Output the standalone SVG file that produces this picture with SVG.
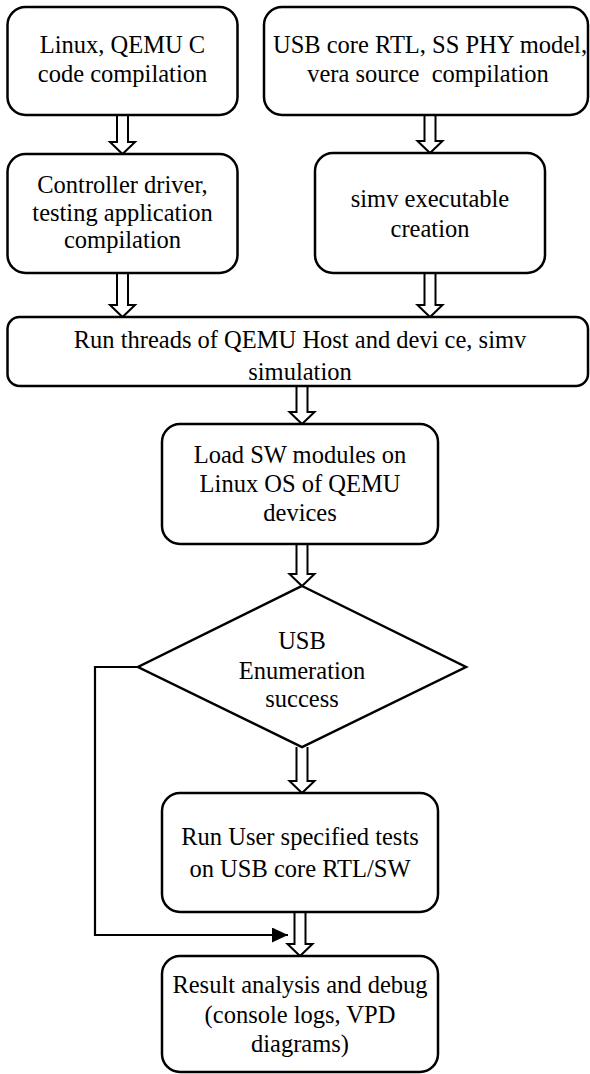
<svg xmlns="http://www.w3.org/2000/svg" width="590" height="1074" viewBox="0 0 590 1074">
  <style>
    .box { fill: #ffffff; stroke: #000000; stroke-width: 2.5; }
    .blk { fill: #ffffff; stroke: #000000; stroke-width: 2; stroke-linejoin: miter; }
    .line { fill: none; stroke: #000000; stroke-width: 2.2; }
    .t { font-family: 'Liberation Serif', serif; font-size: 24.5px; fill: #000000; text-anchor: middle; }
  </style>
  <defs>
    <marker id="ah" markerUnits="userSpaceOnUse" markerWidth="17" markerHeight="16" refX="16" refY="7.5" orient="auto">
      <path d="M0,0 L16,7.5 L0,15 Z" fill="#000000"/>
    </marker>
  </defs>

  <g id="connectors">
    <path class="blk" d="M117,115 L117,142 L110,142 L122.5,154 L135,142 L128,142 L128,115"/>
    <path class="blk" d="M424.5,115 L424.5,141 L417.5,141 L430,153 L442.5,141 L435.5,141 L435.5,115"/>
    <path class="blk" d="M117,273 L117,305 L110,305 L122.5,317 L135,305 L128,305 L128,273"/>
    <path class="blk" d="M424.5,273 L424.5,305 L417.5,305 L430,317 L442.5,305 L435.5,305 L435.5,273"/>
    <path class="blk" d="M296.5,386 L296.5,412 L289.5,412 L302,424 L314.5,412 L307.5,412 L307.5,386"/>
    <path class="blk" d="M296.5,544 L296.5,574 L289.5,574 L302,586 L314.5,574 L307.5,574 L307.5,544"/>
    <path class="blk" d="M296.5,747 L296.5,781 L289.5,781 L302,793 L314.5,781 L307.5,781 L307.5,747"/>
    <path class="blk" d="M294.5,912 L294.5,944 L287.5,944 L300,956 L312.5,944 L305.5,944 L305.5,912"/>
    <path class="line" d="M138,667 L95,667 L95,935 L288,935" marker-end="url(#ah)"/>
  </g>

  <g id="n1">
    <rect class="box" x="7.5" y="7" width="230" height="108" rx="18" ry="18"/>
    <text class="t" x="122.5" y="53">Linux, QEMU C</text>
    <text class="t" x="122.5" y="82">code compilation</text>
  </g>

  <g id="n2">
    <rect class="box" x="264" y="7" width="324" height="108" rx="18" ry="18"/>
    <text class="t" x="430" y="53">USB core RTL, SS PHY model,</text>
    <text class="t" x="428" y="82" xml:space="preserve">vera source  compilation</text>
  </g>

  <g id="n3">
    <rect class="box" x="7.5" y="154" width="230" height="119" rx="18" ry="18"/>
    <text class="t" x="122.5" y="193">Controller driver,</text>
    <text class="t" x="122.5" y="221">testing application</text>
    <text class="t" x="122.5" y="248">compilation</text>
  </g>

  <g id="n4">
    <rect class="box" x="315" y="153" width="230" height="120" rx="18" ry="18"/>
    <text class="t" x="430" y="207">simv executable</text>
    <text class="t" x="430" y="237">creation</text>
  </g>

  <g id="n5">
    <rect class="box" x="7.5" y="317" width="580.5" height="69" rx="12" ry="12"/>
    <text class="t" x="300" y="348">Run threads of QEMU Host and devi ce, simv</text>
    <text class="t" x="300" y="380">simulation</text>
  </g>

  <g id="n6">
    <rect class="box" x="162" y="424" width="276" height="120" rx="18" ry="18"/>
    <text class="t" x="300" y="463">Load SW modules on</text>
    <text class="t" x="300" y="492">Linux OS of QEMU</text>
    <text class="t" x="300" y="521">devices</text>
  </g>

  <g id="n7">
    <polygon class="box" points="302,586 466,667 302,747 138,667"/>
    <text class="t" x="302" y="649">USB</text>
    <text class="t" x="302" y="679">Enumeration</text>
    <text class="t" x="302" y="707">success</text>
  </g>

  <g id="n8">
    <rect class="box" x="162" y="793" width="276" height="119" rx="18" ry="18"/>
    <text class="t" x="300" y="845">Run User specified tests</text>
    <text class="t" x="300" y="877">on USB core RTL/SW</text>
  </g>

  <g id="n9">
    <rect class="box" x="162" y="956" width="276" height="116" rx="18" ry="18"/>
    <text class="t" x="300" y="993">Result analysis and debug</text>
    <text class="t" x="300" y="1023">(console logs, VPD</text>
    <text class="t" x="300" y="1052">diagrams)</text>
  </g>
</svg>
